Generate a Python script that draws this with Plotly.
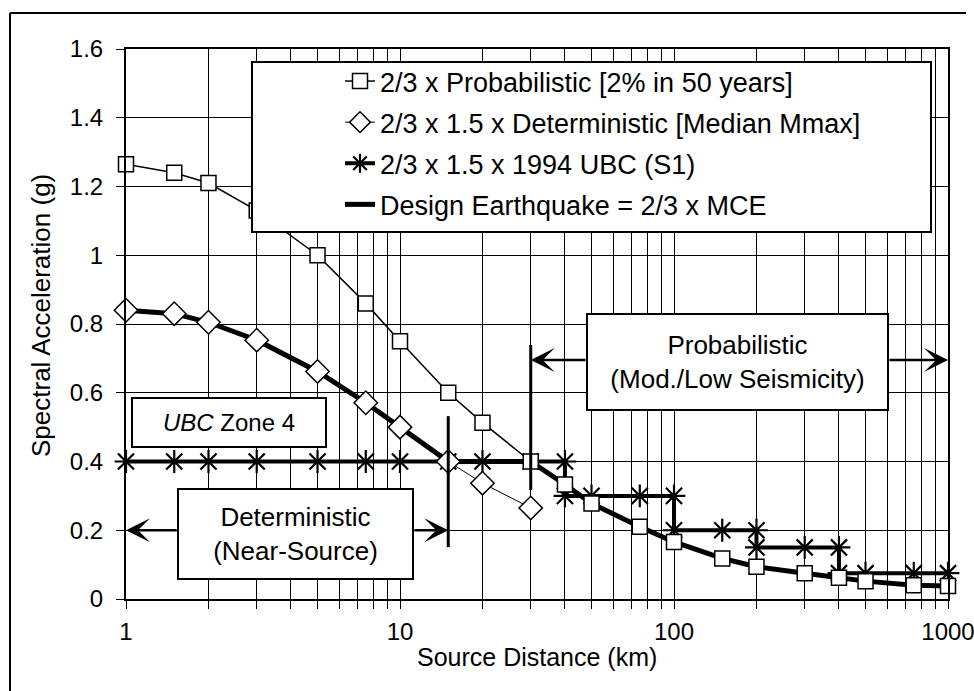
import math
import plotly.graph_objects as go

# distances (km) at which the curves were read
dist = [1, 1.5, 2, 3, 5, 7.5, 10, 15, 20, 30, 40, 50, 75, 100, 150, 200, 300, 400, 500, 750, 1000]
prob_sa = [1.265, 1.24, 1.21, 1.13, 1.0, 0.86, 0.75, 0.60, 0.513, 0.40, 0.333, 0.278, 0.21, 0.166,
           0.118, 0.094, 0.075, 0.062, 0.052, 0.04, 0.038]

det_dist = [1, 1.5, 2, 3, 5, 7.5, 10, 15, 20, 30]
det_sa = [0.84, 0.83, 0.805, 0.753, 0.662, 0.571, 0.50, 0.40, 0.337, 0.265]

# UBC zone factors as steps
ubc_dist = [1, 1.5, 2, 3, 5, 7.5, 10, 15, 20, 30, 40, 40, 50, 75, 100, 100, 150, 200, 200,
            300, 400, 400, 500, 750, 1000]
ubc_sa = [0.4, 0.4, 0.4, 0.4, 0.4, 0.4, 0.4, 0.4, 0.4, 0.4, 0.4, 0.3, 0.3, 0.3, 0.3, 0.2, 0.2,
          0.2, 0.15, 0.15, 0.15, 0.075, 0.075, 0.075, 0.075]

design_dist = [1, 1.5, 2, 3, 5, 7.5, 10, 15, 20, 30, 40, 50, 75, 100, 150, 200, 300, 400, 500, 750, 1000]
design_sa = [0.84, 0.83, 0.805, 0.753, 0.662, 0.571, 0.50, 0.40, 0.40, 0.40, 0.333, 0.278, 0.21,
             0.166, 0.118, 0.094, 0.075, 0.062, 0.052, 0.04, 0.038]

xtick_vals = [1, 2, 3, 4, 5, 6, 7, 8, 9, 10, 20, 30, 40, 50, 60, 70, 80, 90,
              100, 200, 300, 400, 500, 600, 700, 800, 900, 1000]
xtick_text = ["1", "", "", "", "", "", "", "", "", "10", "", "", "", "", "", "", "", "",
              "100", "", "", "", "", "", "", "", "", "1000"]
ytick_vals = [0, 0.2, 0.4, 0.6, 0.8, 1.0, 1.2, 1.4, 1.6]
ytick_text = ["0", "0.2", "0.4", "0.6", "0.8", "1", "1.2", "1.4", "1.6"]

FONT = "Liberation Sans, Arial, sans-serif"

# plot area in pixels
L, R, T, B = 126, 948, 49, 599


def px(xp):
    return (xp - L) / (R - L)


def py(yp):
    return (B - yp) / (B - T)


def lx(v):
    return math.log10(v)


fig = go.Figure()

fig.add_trace(go.Scatter(x=design_dist, y=design_sa, mode="lines", name="Design Earthquake = 2/3 x MCE",
                         line=dict(color="black", width=5), legendgroup="d", legendrank=4,
                         cliponaxis=False))
fig.add_trace(go.Scatter(x=ubc_dist, y=ubc_sa, mode="lines+markers", name="2/3 x 1.5 x 1994 UBC (S1)",
                         line=dict(color="black", width=4),
                         marker=dict(symbol="asterisk-open", size=19, line=dict(color="black", width=2.2)),
                         legendgroup="c", legendrank=3, cliponaxis=False))
fig.add_trace(go.Scatter(x=det_dist, y=det_sa, mode="lines+markers",
                         name="2/3 x 1.5 x Deterministic [Median Mmax]",
                         line=dict(color="black", width=1),
                         marker=dict(symbol="diamond", size=18, color="white", line=dict(color="black", width=1.5)),
                         legendgroup="b", legendrank=2, cliponaxis=False))
fig.add_trace(go.Scatter(x=dist, y=prob_sa, mode="lines+markers", name="2/3 x Probabilistic [2% in 50 years]",
                         line=dict(color="black", width=1.5),
                         marker=dict(symbol="square", size=15, color="white", line=dict(color="black", width=1.5)),
                         legendgroup="a", legendrank=1, cliponaxis=False))

shapes = [
    # legend box
    dict(type="rect", xref="paper", yref="paper", x0=px(252), x1=px(931), y0=py(232), y1=py(62),
         fillcolor="white", line=dict(color="black", width=2), layer="above"),
    # boundary bars
    dict(type="line", xref="paper", yref="y", x0=lx(15) / 3, x1=lx(15) / 3, y0=0.151, y1=0.532,
         line=dict(color="black", width=3)),
    dict(type="line", xref="paper", yref="y", x0=lx(30) / 3, x1=lx(30) / 3, y0=0.317, y1=0.739,
         line=dict(color="black", width=3)),
    # page frame
    dict(type="line", xref="paper", yref="paper", x0=px(10), x1=px(966), y0=py(13), y1=py(13),
         line=dict(color="black", width=2)),
    dict(type="line", xref="paper", yref="paper", x0=px(10), x1=px(10), y0=py(13), y1=py(691),
         line=dict(color="black", width=2)),
]

box = dict(xref="x", yref="y", showarrow=False, bgcolor="white", bordercolor="black", borderwidth=2,
           borderpad=0, align="center", valign="middle")
arrow = dict(xref="x", yref="y", axref="x", ayref="y", text="", showarrow=True, arrowhead=3,
             arrowsize=1.6, arrowwidth=2.5, arrowcolor="black", standoff=0)

annotations = [
    dict(box, x=(229 - L) / 274, y=(B - 422) / 343.75, width=192, height=47,
         text="<i>UBC</i> Zone 4", font=dict(family=FONT, size=24, color="black")),
    dict(box, x=(295.5 - L) / 274, y=(B - 534) / 343.75, width=233, height=88,
         text="Deterministic<br>(Near-Source)", font=dict(family=FONT, size=26, color="black")),
    dict(box, x=(737.5 - L) / 274, y=(B - 362) / 343.75, width=299, height=94,
         text="Probabilistic<br>(Mod./Low Seismicity)", font=dict(family=FONT, size=26, color="black")),
    dict(arrow, x=0, y=0.2, ax=(178 - L) / 274, ay=0.2),
    dict(arrow, x=lx(15), y=0.2, ax=(413 - L) / 274, ay=0.2),
    dict(arrow, x=lx(30), y=0.695, ax=(587 - L) / 274, ay=0.695),
    dict(arrow, x=lx(1000), y=0.695, ax=(888 - L) / 274, ay=0.695),
    # axis titles
    dict(xref="paper", yref="paper", x=0.5, y=py(657), showarrow=False, text="Source Distance (km)",
         font=dict(family=FONT, size=25, color="black"), xanchor="center", yanchor="middle"),
    dict(xref="paper", yref="paper", x=px(41), y=py(316), showarrow=False, text="Spectral Acceleration (g)",
         textangle=-90, font=dict(family=FONT, size=26, color="black"), xanchor="center", yanchor="middle"),
]

fig.update_layout(
    width=974, height=691,
    margin=dict(l=L, r=974 - R, t=T, b=691 - B, pad=0, autoexpand=False),
    paper_bgcolor="white", plot_bgcolor="white",
    font=dict(family=FONT, size=24, color="black"),
    showlegend=True,
    legend=dict(x=px(340), y=py(57), xanchor="left", yanchor="top",
                bgcolor="rgba(0,0,0,0)", borderwidth=0, traceorder="grouped", tracegroupgap=3,
                font=dict(family=FONT, size=27, color="black")),
    shapes=shapes,
    annotations=annotations,
)

fig.update_xaxes(type="log", range=[0, 3], tickvals=xtick_vals, ticktext=xtick_text,
                 showgrid=True, gridcolor="black", gridwidth=1, automargin=False,
                 ticks="outside", ticklen=8, tickcolor="black", tickwidth=1, ticklabelstandoff=2,
                 ticklabeloverflow="allow",
                 showline=True, linecolor="black", linewidth=2, mirror=True,
                 tickfont=dict(family=FONT, size=24, color="black"))
fig.update_yaxes(range=[0, 1.6], tickvals=ytick_vals, ticktext=ytick_text,
                 showgrid=True, gridcolor="black", gridwidth=1, zeroline=False, automargin=False,
                 ticks="outside", ticklen=8, tickcolor="black", tickwidth=1, ticklabelstandoff=8,
                 showline=True, linecolor="black", linewidth=2, mirror=True,
                 tickfont=dict(family=FONT, size=24, color="black"))

# the page body has a default margin; drop it so the figure sits at the window origin
fig.write_html("out.html", config={"displayModeBar": False},
               post_script="document.body.style.margin='0px';")
